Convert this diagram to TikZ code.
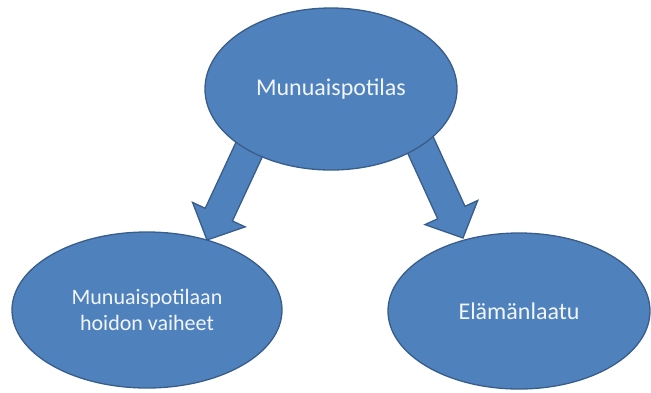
\documentclass[tikz,border=0pt]{standalone}
\usepackage{fontspec}
\setmainfont{Carlito}
\usetikzlibrary{shapes,calc,positioning}
\definecolor{bubblefill}{HTML}{4F81BD}
\definecolor{bubbleline}{HTML}{385D8A}
\definecolor{bubbletext}{HTML}{F2F6FB}
\tikzset{
  bubble/.style={ellipse,draw=bubbleline,fill=bubblefill,line width=1.3pt,inner sep=0pt,
    text=bubbletext,align=center},
  blockarrow/.style={draw=bubbleline,fill=bubblefill,line width=1.3pt,line join=miter}
}
\newcommand{\fatarrow}[2]{%
  \coordinate (h) at ($(#2)!28pt!(#1)$);
  \draw[blockarrow] ($(#1)!15pt!90:(#2)$) -- ($(h)!15pt!-90:(#1)$) -- ($(h)!29pt!-90:(#1)$) -- (#2)
    -- ($(h)!29pt!90:(#1)$) -- ($(h)!15pt!90:(#1)$) -- ($(#1)!15pt!-90:(#2)$) -- cycle;}
\begin{document}
\begin{tikzpicture}[x=1pt,y=-1pt]
\useasboundingbox (0,0) rectangle (651,392);
\coordinate (hoitoStart) at (262,122);
\coordinate (hoitoTip) at (207,240);
\coordinate (laatuStart) at (409,120);
\coordinate (laatuTip) at (463,238);
\fatarrow{hoitoStart}{hoitoTip}
\fatarrow{laatuStart}{laatuTip}
\node[bubble,minimum width=252pt,minimum height=162pt,font=\fontsize{24}{28}\selectfont] (potilas) at (331,89) {Munuaispotilas};
\node[bubble,minimum width=270pt,minimum height=156pt,font=\fontsize{22}{26}\selectfont] (hoito) at (147,310) {Munuaispotilaan\\hoidon vaiheet};
\node[bubble,minimum width=262pt,minimum height=156pt,font=\fontsize{24}{28}\selectfont] (laatu) at (519,311) {Elämänlaatu};
\end{tikzpicture}
\end{document}
